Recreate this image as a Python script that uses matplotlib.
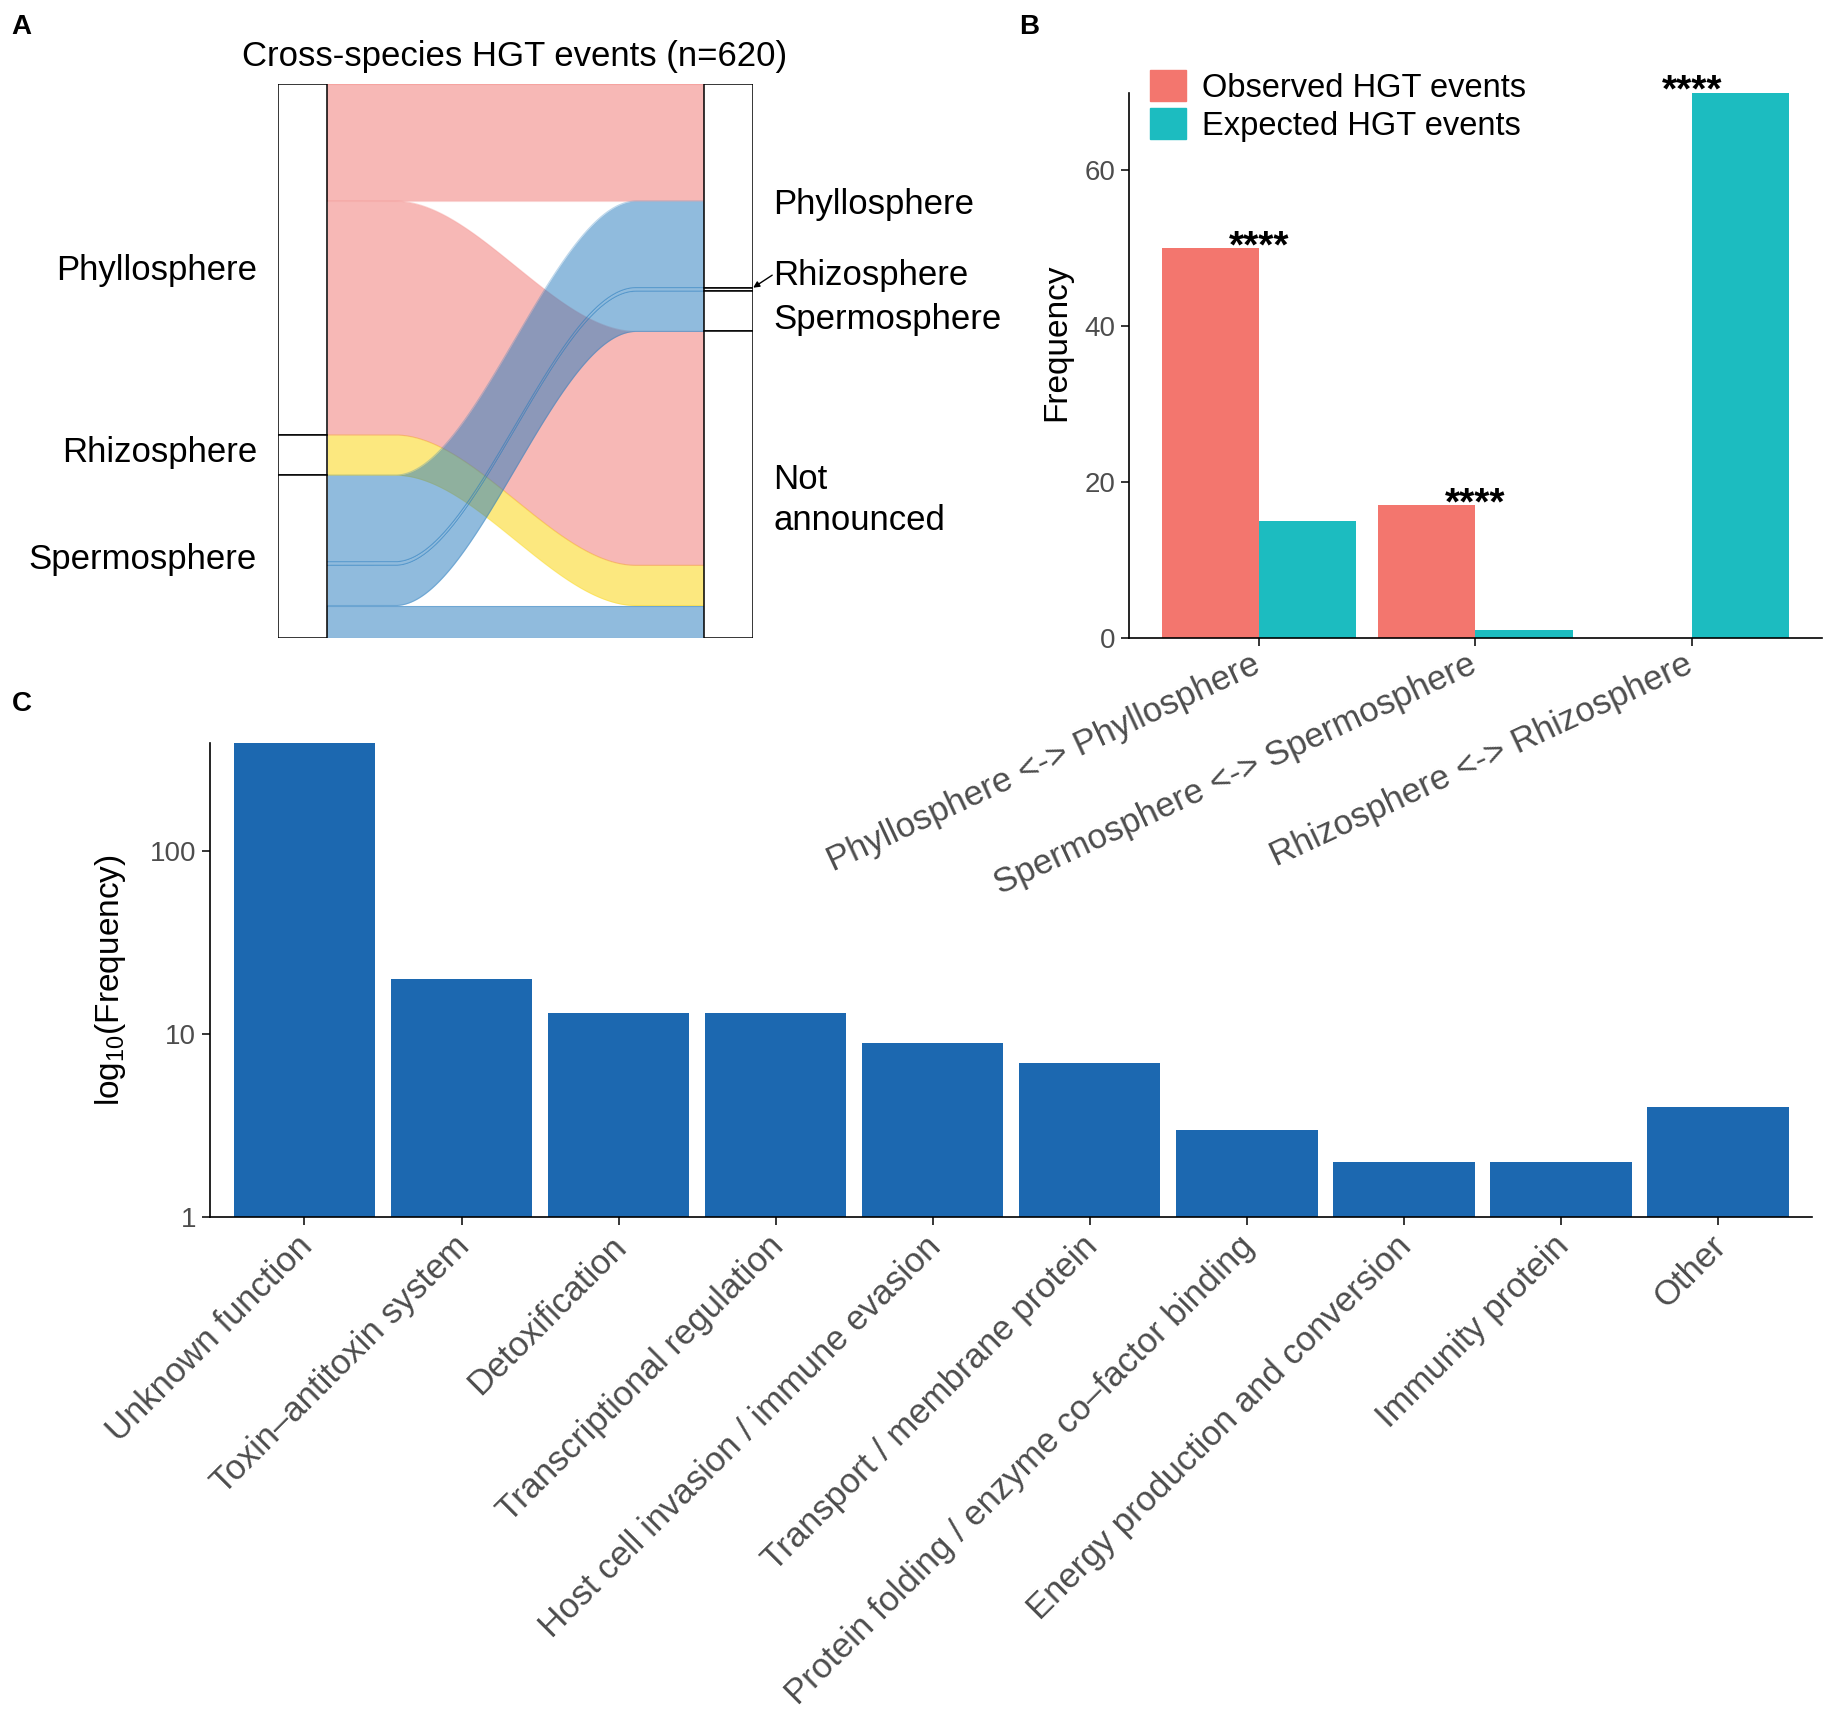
import numpy as np
import matplotlib
matplotlib.use("Agg")
import matplotlib.pyplot as plt
import matplotlib.transforms as mtransforms
from matplotlib.patches import Rectangle, Patch
from matplotlib.ticker import NullLocator

plt.rcParams['font.family'] = ['Liberation Sans', 'DejaVu Sans']

# ---------------- Panel A data (alluvial) ----------------
alluvial_title = "Cross-species HGT events (n=620)"
left_nodes = ["Phyllosphere", "Rhizosphere", "Spermosphere"]
right_nodes = ["Phyllosphere", "Rhizosphere", "Spermosphere", "Not announced"]
right_labels = ["Phyllosphere", "Rhizosphere", "Spermosphere", "Not\nannounced"]
flow_src = ["Phyllosphere", "Phyllosphere", "Rhizosphere",
            "Spermosphere", "Spermosphere", "Spermosphere", "Spermosphere"]
flow_dst = ["Phyllosphere", "Not announced", "Not announced",
            "Phyllosphere", "Rhizosphere", "Spermosphere", "Not announced"]
flow_n = [131, 262, 45, 97, 4, 45, 36]
src_colors = {"Phyllosphere": "#F1736F", "Rhizosphere": "#FBD300", "Spermosphere": "#2379BD"}

# ---------------- Panel B data ----------------
b_categories = ["Phyllosphere <-> Phyllosphere",
                "Spermosphere <-> Spermosphere",
                "Rhizosphere <-> Rhizosphere"]
observed = [50, 17, 0]
expected = [15, 1, 70]
signif = ["****", "****", "****"]
b_ticks = [0, 20, 40, 60]

# ---------------- Panel C data ----------------
c_categories = ["Unknown function", "Toxin–antitoxin system", "Detoxification",
                "Transcriptional regulation", "Host cell invasion / immune evasion",
                "Transport / membrane protein", "Protein folding / enzyme co–factor binding",
                "Energy production and conversion", "Immunity protein", "Other"]
c_values = [393, 20, 13, 13, 9, 7, 3, 2, 2, 4]
c_ticks = [1, 10, 100]

# ---------------- layout helpers ----------------
W, H = 1568.0, 1465.0


def box(l, t, r, b):
    return [l / W, 1 - b / H, (r - l) / W, (b - t) / H]


fig = plt.figure(figsize=(18.31, 17.11), dpi=100)
TICK_GREY = "#4D4D4D"

# ================= Panel A =================
axA = fig.add_axes(box(238, 72, 645, 546))
total = sum(flow_n)
axA.set_xlim(0, 1)
axA.set_ylim(total, 0)
axA.axis("off")
node_w = 0.104

left_tot = {n: sum(c for s, c in zip(flow_src, flow_n) if s == n) for n in left_nodes}
right_tot = {n: sum(c for d, c in zip(flow_dst, flow_n) if d == n) for n in right_nodes}
left_start, acc = {}, 0
for n in left_nodes:
    left_start[n] = acc
    acc += left_tot[n]
right_start, acc = {}, 0
for n in right_nodes:
    right_start[n] = acc
    acc += right_tot[n]

idx = list(range(len(flow_n)))
lpos, rpos = {}, {}
cur = dict(left_start)
for i in sorted(idx, key=lambda i: (left_nodes.index(flow_src[i]), right_nodes.index(flow_dst[i]))):
    lpos[i] = cur[flow_src[i]]
    cur[flow_src[i]] += flow_n[i]
cur = dict(right_start)
for i in sorted(idx, key=lambda i: (right_nodes.index(flow_dst[i]), left_nodes.index(flow_src[i]))):
    rpos[i] = cur[flow_dst[i]]
    cur[flow_dst[i]] += flow_n[i]

xs = np.linspace(node_w, 1 - node_w, 400)
t = (xs - node_w) / (1 - 2 * node_w)
u = np.clip((t - 0.18) / 0.64, 0, 1)
s = u * u * (3 - 2 * u)
for i in idx:
    c = src_colors[flow_src[i]]
    top = lpos[i] + (rpos[i] - lpos[i]) * s
    bot = top + flow_n[i]
    axA.fill_between(xs, top, bot, color=c, alpha=0.5, lw=0, zorder=2)
    axA.plot(xs, top, color=c, alpha=0.3, lw=0.8, zorder=2)
    axA.plot(xs, bot, color=c, alpha=0.3, lw=0.8, zorder=2)

for n in left_nodes:
    axA.add_patch(Rectangle((0, left_start[n]), node_w, left_tot[n], fc="white",
                            ec="black", lw=1.1, zorder=3))
for n in right_nodes:
    axA.add_patch(Rectangle((1 - node_w, right_start[n]), node_w, right_tot[n], fc="white",
                            ec="black", lw=1.1, zorder=3))

# labels (repelled positions, in count units)
left_label_y = [209, 413, 532]
right_label_y = [135, 214, 264, 466]
for n, y in zip(left_nodes, left_label_y):
    axA.text(-0.044, y, n, ha="right", va="center", fontsize=25, clip_on=False)
for lab, y in zip(right_labels, right_label_y):
    axA.text(1.042, y, lab, ha="left", va="center", fontsize=25, clip_on=False,
             linespacing=1.3)
rz = right_nodes.index("Rhizosphere")
axA.annotate("", xy=(1.0, right_start["Rhizosphere"]), xytext=(1.04, right_label_y[rz]),
             arrowprops=dict(arrowstyle="-|>", lw=1.0, color="black", mutation_scale=9,
                             shrinkA=0, shrinkB=0), annotation_clip=False)
fig.text(441 / W, 1 - 48 / H, alluvial_title, ha="center", va="center", fontsize=25)

# ================= Panel B =================
axB = fig.add_axes(box(967, 79.3, 1560, 546))
xb = np.arange(len(b_categories))
bw = 0.45
axB.bar(xb - bw / 2, observed, bw, color="#F3766E", label="Observed HGT events", zorder=1)
axB.bar(xb + bw / 2, expected, bw, color="#1CBCC0", label="Expected HGT events", zorder=1)
axB.set_xlim(-0.6, 2.6)
axB.set_ylim(0, 70)
for sp in ["top", "right"]:
    axB.spines[sp].set_visible(False)
for sp in ["left", "bottom"]:
    axB.spines[sp].set_linewidth(1.2)
axB.set_yticks(b_ticks)
axB.set_yticklabels([str(v) for v in b_ticks])
axB.set_xticks(xb)
axB.set_xticklabels(b_categories, rotation=25, ha="right", va="top", rotation_mode="anchor")
axB.tick_params(axis="both", length=6, width=1.1, color="black", labelcolor=TICK_GREY)
axB.tick_params(axis="y", labelsize=20, pad=4)
axB.tick_params(axis="x", labelsize=25, pad=4)
offB = mtransforms.ScaledTranslation(-8 / 100, 4 / 100, fig.dpi_scale_trans)
for lab in axB.get_xticklabels():
    lab.set_transform(lab.get_transform() + offB)
axB.set_ylabel("Frequency", fontsize=24)
axB.yaxis.set_label_coords(-0.082, 0.542)
for xi, o, e, st in zip(xb, observed, expected, signif):
    axB.text(xi, max(o, e) - 1.2, st, ha="center", va="baseline", fontsize=28,
             fontweight="bold")
axB.legend(handles=[Patch(color="#F3766E"), Patch(color="#1CBCC0")],
           labels=["Observed HGT events", "Expected HGT events"],
           loc="upper left", bbox_to_anchor=(985 / W, 1 - 60 / H),
           bbox_transform=fig.transFigure, frameon=False, fontsize=23.5,
           handlelength=1.1, handleheight=1.1, handletextpad=0.5, labelspacing=0.12,
           borderpad=0, borderaxespad=0)

# ================= Panel C =================
axC = fig.add_axes(box(180, 636, 1552, 1042))
axC.patch.set_visible(False)
axC.set_yscale("log")
xc = np.arange(len(c_categories))
axC.bar(xc, c_values, 0.9, color="#1C68B0", zorder=1)
axC.set_ylim(1, max(c_values))
axC.set_xlim(-0.6, len(c_categories) - 0.4)
axC.yaxis.set_minor_locator(NullLocator())
axC.set_yticks(c_ticks)
axC.set_yticklabels([str(v) for v in c_ticks])
for sp in ["top", "right"]:
    axC.spines[sp].set_visible(False)
for sp in ["left", "bottom"]:
    axC.spines[sp].set_linewidth(1.2)
axC.set_xticks(xc)
axC.set_xticklabels(c_categories, rotation=45, ha="right", va="top", rotation_mode="anchor")
axC.tick_params(axis="both", length=6, width=1.1, color="black", labelcolor=TICK_GREY)
axC.tick_params(axis="y", labelsize=20, pad=4)
axC.tick_params(axis="x", labelsize=25, pad=6)
offC = mtransforms.ScaledTranslation(-9 / 100, 4 / 100, fig.dpi_scale_trans)
for lab in axC.get_xticklabels():
    lab.set_transform(lab.get_transform() + offC)
axC.set_ylabel(r"$\mathregular{log_{10}}$(Frequency)", fontsize=24, labelpad=16)

# panel letters
for letter, (x, y) in zip(["A", "B", "C"], [(10, 12), (873, 12), (10, 592)]):
    fig.text(x / W, 1 - y / H, letter, ha="left", va="top", fontsize=20, fontweight="bold")

fig.savefig("out.png", dpi=100)
